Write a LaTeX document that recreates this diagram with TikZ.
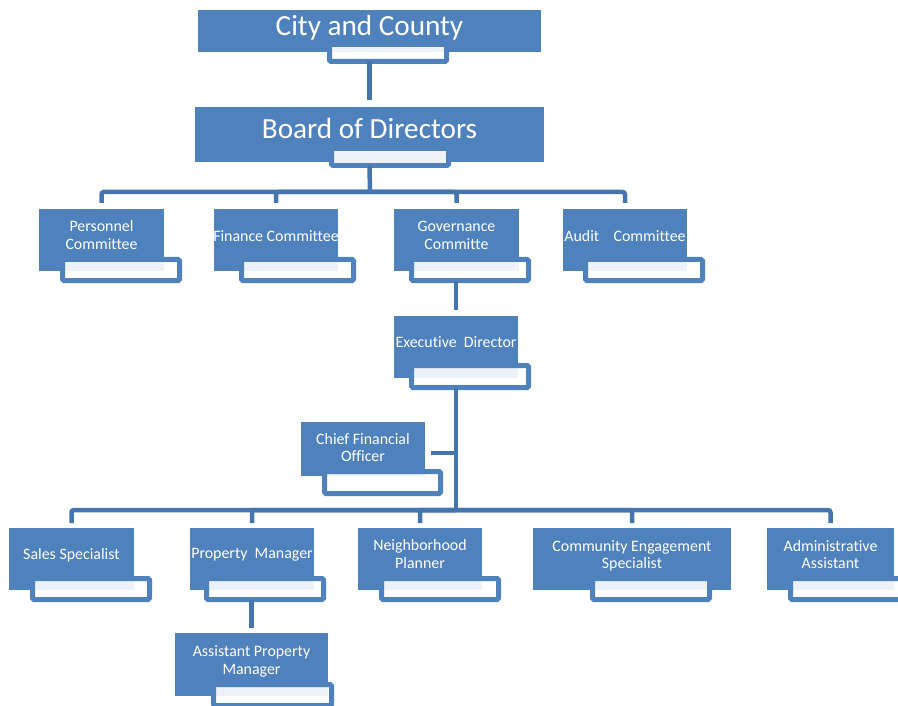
\documentclass[tikz,border=0pt]{standalone}
\usepackage{fontspec}
\setmainfont{Carlito}[Ligatures=NoCommon]
\definecolor{mainblue}{RGB}{79,129,189}
\definecolor{connblue}{RGB}{70,117,174}
\newcommand\smallf{\fontsize{15.9}{17.5}\selectfont}
\newcommand\bigf{\fontsize{29.2}{34}\selectfont}
\newcommand\orgmain[5]{\node[mainbx, minimum width={(#4-#2)*1pt}, minimum height={(#5-#3)*1pt}] (#1) at ({(#2+#4)/2},{(#3+#5)/2}) {};}
\newcommand\orgsub[5]{\node[subbx, minimum width={(#4-#2-5)*1pt}, minimum height={(#5-#3-5)*1pt}] (#1) at ({(#2+#4)/2},{(#3+#5)/2}) {};}
\tikzset{
  mainbx/.style={rectangle, fill=mainblue, draw=none, inner sep=0pt, outer sep=0pt},
  subbx/.style={rectangle, draw=mainblue, line width=5pt, fill=white, fill opacity=0.9, rounded corners=1.5pt, inner sep=0pt, outer sep=0pt},
  lbl/.style={text=white, font=\smallf, align=center, inner sep=0pt},
  biglbl/.style={text=white, font=\bigf, inner sep=0pt},
  conn/.style={draw=connblue, line width=4.5pt, rounded corners=2.5pt},
}
\begin{document}
\begin{tikzpicture}[x=1pt,y=-1pt]
\useasboundingbox (0,0) rectangle (898,706);
% boxes
\orgmain{city}{198}{10}{541}{52}
\orgsub{citysub}{327}{42}{449}{64}
\orgmain{board}{195}{107}{544}{162}
\orgsub{boardsub}{329}{146}{451}{168}
\orgmain{pers}{39}{209}{164}{271}
\orgsub{perssub}{60}{257}{182}{283}
\orgmain{fin}{214}{209}{338}{271}
\orgsub{finsub}{239}{257}{356}{283}
\orgmain{gov}{394}{209}{519}{271}
\orgsub{govsub}{409}{257}{531}{283}
\orgmain{aud}{563}{209}{687}{271}
\orgsub{audsub}{583}{257}{705}{283}
\orgmain{exec}{394}{316}{518}{378}
\orgsub{execsub}{409}{363}{531}{390}
\orgmain{cfo}{301}{422}{425}{476}
\orgsub{cfosub}{322}{469}{443}{496}
\orgmain{sales}{9}{528}{134}{590}
\orgsub{salessub}{30}{576}{152}{602}
\orgmain{prop}{190}{528}{314}{590}
\orgsub{propsub}{204}{576}{326}{602}
\orgmain{neigh}{358}{528}{482}{590}
\orgsub{neighsub}{379}{576}{501}{602}
\orgmain{comm}{533}{528}{731}{590}
\orgsub{commsub}{590}{576}{712}{602}
\orgmain{admin}{767}{528}{894}{590}
\orgsub{adminsub}{788}{576}{910}{602}
\orgmain{asst}{175}{633}{328}{696}
\orgsub{asstsub}{211}{682}{334}{708}
% connectors
\coordinate (bus1) at (370,192);
\coordinate (bus2) at (456,510);
\coordinate (cfoj) at (456,453);
\draw[conn, shorten >=7pt] (city.center |- citysub.south) -- (board.north);
\draw[conn] (board.center |- boardsub.south) -- (bus1);
\foreach \c in {pers,fin,gov,aud}{
  \draw[conn, shorten >=6pt] (bus1) -| (\c.north);
}
\draw[conn, shorten >=6pt] (exec.north |- govsub.south) -- (exec.north);
\draw[conn] (exec.center |- execsub.south) -- (bus2);
\draw[conn, shorten >=6pt] (cfoj) -- (cfoj -| cfo.east);
\foreach \c in {sales,prop,neigh,comm,admin}{
  \draw[conn, shorten >=5pt] (bus2) -| (\c.north);
}
\draw[conn, shorten >=5pt] (asst.north |- propsub.south) -- (asst.north);
% labels
\node[biglbl] (cityt) at (city.center |- 0,27.5) {City and County};
\node[biglbl] (boardt) at (board.center |- 0,128.5) {Board of Directors};
\node[lbl] (perst) at (pers.center |- 0,235) {Personnel\\Committee};
\node[lbl] (fint) at (fin.center |- 0,236.5) {Finance Committee};
\node[lbl] (govt) at (gov.center |- 0,235.5) {Governance\\Committe};
\node[lbl] (audt) at (aud.center |- 0,236.5) {Audit\ \ \ \ Committee};
\node[lbl] (exect) at (exec.center |- 0,342) {Executive\ \ Director};
\node[lbl] (cfot) at (cfo.center |- 0,447.5) {Chief Financial\\Officer};
\node[lbl] (salest) at (sales.center |- 0,555) {Sales Specialist};
\node[lbl] (propt) at (prop.center |- 0,555) {Property\ \ Manager};
\node[lbl] (neight) at (neigh.center |- 0,554) {Neighborhood\\Planner};
\node[lbl] (commt) at (comm.center |- 0,556) {Community Engagement\\Specialist};
\node[lbl] (admint) at (admin.center |- 0,554.5) {Administrative\\Assistant};
\node[lbl] (asstt) at (asst.center |- 0,661.5) {Assistant Property\\Manager};
\end{tikzpicture}
\end{document}
